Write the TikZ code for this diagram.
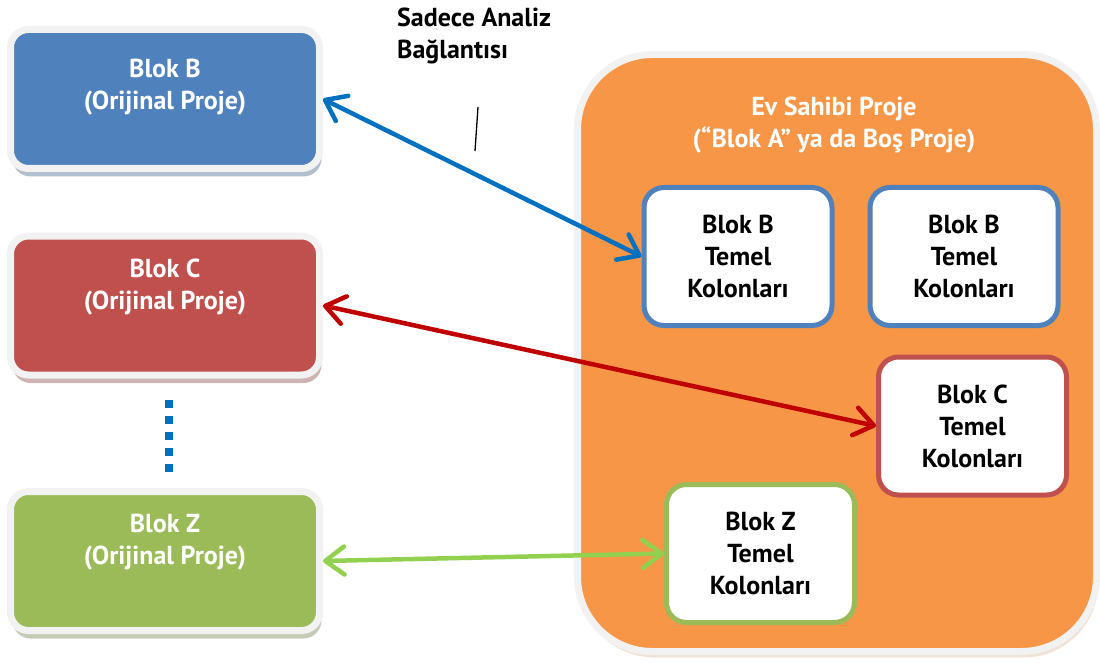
\documentclass[tikz,border=0pt]{standalone}
\usepackage{fontspec}
\setmainfont{PT Sans}
\usetikzlibrary{arrows.meta,shadows}

\definecolor{blokB}{HTML}{4F81BD}
\definecolor{blokC}{HTML}{C0504D}
\definecolor{blokZ}{HTML}{9BBB59}
\definecolor{evfill}{HTML}{F79646}
\definecolor{frame}{HTML}{F2F2F2}
\definecolor{linkB}{HTML}{0070C0}
\definecolor{linkC}{HTML}{C00000}
\definecolor{linkZ}{HTML}{92D050}

\begin{document}
\begin{tikzpicture}[x=1pt,y=-1pt,
  font=\fontsize{26}{32}\selectfont\bfseries,
  orig/.style={draw=frame, line width=7pt, rounded corners=18pt,
    minimum width=309pt, minimum height=139pt},
  origtext/.style={text=white, align=center},
  temel/.style={draw, fill=white, line width=5pt, rounded corners=20pt,
    minimum width=188pt, minimum height=138pt, align=center},
  link/.style={line width=4.5pt, line cap=round,
    {Straight Barb[length=19pt,width=28pt,line cap=round,line join=round]}-{Straight Barb[length=19pt,width=28pt,line cap=round,line join=round]}}]
\useasboundingbox (0,0) rectangle (1100,663);

% host project
\node[draw=frame, fill=evfill, line width=7pt, rounded corners=75pt,
  minimum width=519pt, minimum height=597pt,
  drop shadow={shadow xshift=2pt, shadow yshift=-6pt, fill=brown!45}] (ev) at (837,353) {};
\node[text=white, align=center] (evtxt) at (834,125) {Ev Sahibi Proje\\(“Blok A” ya da Boş Proje)};

% original projects
\node[orig, fill=blokB, drop shadow={shadow xshift=2pt, shadow yshift=-8pt, fill=blokB!45!gray}] (B) at (165,99) {};
\node[orig, fill=blokC, drop shadow={shadow xshift=2pt, shadow yshift=-8pt, fill=blokC!45!gray}] (C) at (165,305.5) {};
\node[orig, fill=blokZ, drop shadow={shadow xshift=2pt, shadow yshift=-8pt, fill=blokZ!45!gray}] (Z) at (165,561) {};
\node[origtext] (Btxt) at (165,87) {Blok B\\(Orijinal Proje)};
\node[origtext] (Ctxt) at (165,287) {Blok C\\(Orijinal Proje)};
\node[origtext] (Ztxt) at (165,542) {Blok Z\\(Orijinal Proje)};

\coordinate (d1) at (169,400);
\coordinate (d2) at (169,472);
\draw[linkB, line width=8pt, dash pattern=on 8pt off 8pt] (d1) -- (d2);

% base columns
\node[temel, draw=blokB] (tB) at (738,256.5) {Blok B\\Temel\\Kolonları};
\node[temel, draw=blokB] (tB2) at (964,256.5) {Blok B\\Temel\\Kolonları};
\node[temel, draw=blokC] (tC) at (972.5,426) {Blok C\\Temel\\Kolonları};
\node[temel, draw=blokZ] (tZ) at (760.5,553.5) {Blok Z\\Temel\\Kolonları};

\draw[link, linkB] (B.east) to (tB.west);
\draw[link, linkC] (C.east) to (tC.west);
\draw[link, linkZ] (Z.east) to (tZ.west);

\node[anchor=north west, inner sep=0pt, align=left] (sadece) at (397,8) {Sadece Analiz\\Bağlantısı};
\coordinate (c1) at (478,107);
\coordinate (c2) at (475,151);
\draw[line width=1.3pt] (c1) -- (c2);
\end{tikzpicture}
\end{document}
